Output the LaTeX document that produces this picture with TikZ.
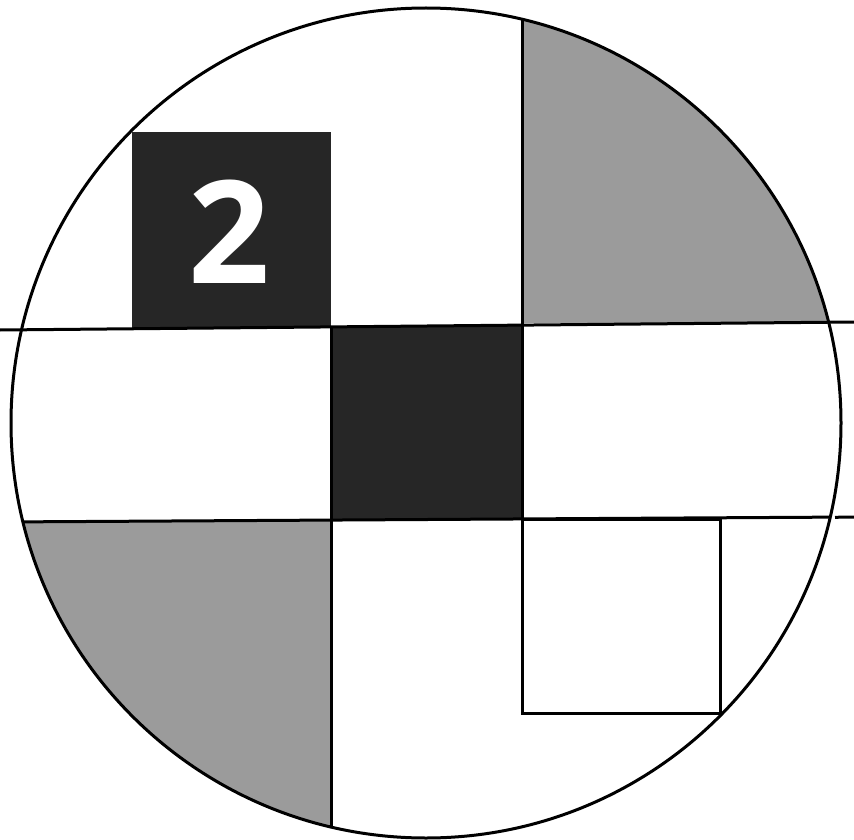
\documentclass[tikz,border=0pt]{standalone}
\usepackage{fontspec}
\newfontfamily\digitfont{Open Sans}
\usepackage{tikz}
\definecolor{inkdark}{RGB}{38,38,38}
\definecolor{inkgrey}{RGB}{155,155,155}
\tikzset{
  rule/.style={line width=3pt, draw=black},
  darkblock/.style={fill=inkdark},
  greyblock/.style={fill=inkgrey},
  numlabel/.style={font=\digitfont\bfseries\fontsize{143}{143}\selectfont, text=white, inner sep=0pt},
}
\begin{document}
\begin{tikzpicture}[x=1pt,y=-1pt]
  \useasboundingbox (0,0) rectangle (854,840);
  % disc
  \coordinate (c) at (426,423);
  \begin{scope}
    \clip (c) circle[radius=415];
    \fill[greyblock] (522,0) rectangle (854,323);
    \fill[greyblock] (0,521) rectangle (331,840);
  \end{scope}
  % dark squares
  \fill[darkblock] (132,132) rectangle (331,328);
  \fill[darkblock] (331,326) rectangle (522,520);
  \node[numlabel] (two) at (229,232) {2};
  % grid lines
  \draw[rule] (0,330) -- (854,322);
  \begin{scope}
    \clip (c) circle[radius=415];
    \draw[rule] (0,522) -- (854,517);
    \draw[rule] (522,0) -- (522,519);
    \draw[rule] (331,327) -- (331,840);
  \end{scope}
  \draw[rule] (835,517.3) -- (854,517);
  \draw[rule] (522,519) rectangle (720,713);
  \draw[rule] (c) circle[radius=415];
\end{tikzpicture}
\end{document}
